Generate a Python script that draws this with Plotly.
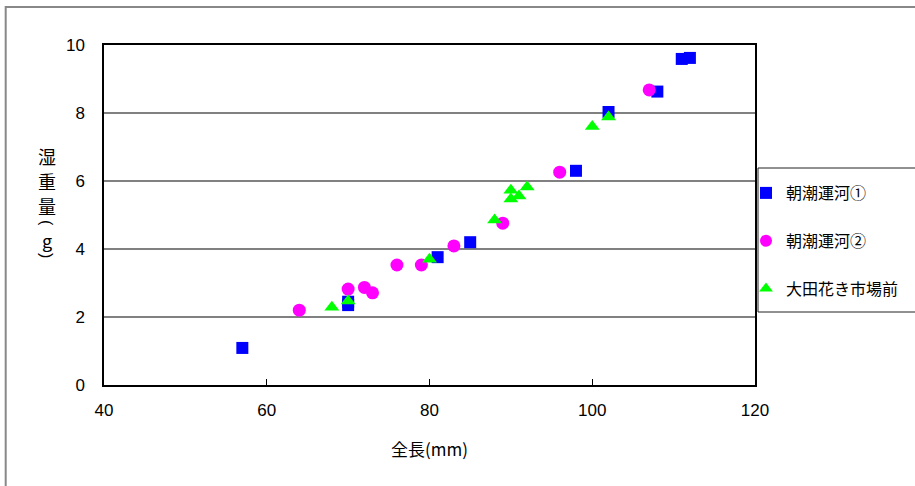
import plotly.graph_objects as go

# 朝潮運河①
s1_len = [57, 70, 70, 81, 85, 98, 102, 108, 111, 112]
s1_wt = [1.09, 2.35, 2.45, 3.76, 4.2, 6.3, 8.03, 8.63, 9.59, 9.62]
# 朝潮運河②
s2_len = [64, 70, 72, 73, 76, 79, 83, 89, 96, 107]
s2_wt = [2.2, 2.82, 2.87, 2.71, 3.53, 3.53, 4.09, 4.76, 6.26, 8.68]
# 大田花き市場前
s3_len = [68, 70, 80, 88, 90, 90, 91, 92, 100, 102]
s3_wt = [2.29, 2.47, 3.7, 4.85, 5.73, 5.47, 5.56, 5.82, 7.6, 7.88]

names = ["朝潮運河①", "朝潮運河②", "大田花き市場前"]
x_ticks = [40, 60, 80, 100, 120]
y_title_chars = ["湿", "重", "量", "(", "g", ")"]
y_title_angles = [0, 0, 0, 90, 0, 90]
y_ticks = [0, 2, 4, 6, 8, 10]

FONT = "Noto Sans CJK JP, Liberation Sans, sans-serif"
NUMFONT = "Liberation Sans Narrow, Liberation Sans, sans-serif"
LATIN = "Liberation Sans, DejaVu Sans, sans-serif"

fig = go.Figure()
fig.add_trace(go.Scatter(x=s1_len, y=s1_wt, mode="markers", name=names[0], legendgroup="a",
                         marker=dict(symbol="square", size=12, color="#0000FF")))
fig.add_trace(go.Scatter(x=s2_len, y=s2_wt, mode="markers", name=names[1], legendgroup="b",
                         marker=dict(symbol="circle", size=13, color="#FF00FF")))
fig.add_trace(go.Scatter(x=s3_len, y=s3_wt, mode="markers", name=names[2], legendgroup="c",
                         marker=dict(symbol="triangle-up", size=13, color="#00FF00")))

# vertical y-axis title 湿重量（g）, brackets turned sideways as in vertical writing
title_rows_px = [156, 181, 206, 223, 240, 255]
annotations = []
for ch, ang, py in zip(y_title_chars, y_title_angles, title_rows_px):
    annotations.append(dict(text=ch, xref="paper", yref="paper", textangle=ang,
                            x=(47 - 104) / 651, y=(385 - py) / 340,
                            xanchor="center", yanchor="middle", showarrow=False,
                            font=dict(size=18 if ang == 0 else 16,
                                      family=FONT if ang == 0 else LATIN)))

fig.update_layout(
    width=915, height=486,
    margin=dict(l=104, r=160, t=45, b=101, autoexpand=False),
    paper_bgcolor="white", plot_bgcolor="white",
    font=dict(family=FONT, size=16, color="black"),
    showlegend=True,
    legend=dict(x=(746 - 104) / 651, y=(385 - 176) / 340, xanchor="left", yanchor="top",
                borderwidth=0, bgcolor="rgba(0,0,0,0)",
                font=dict(size=16, family=FONT), tracegroupgap=24,
                itemsizing="constant", itemwidth=30),
    xaxis=dict(range=[40, 120], tickvals=x_ticks, showgrid=False, zeroline=False,
               showline=True, linecolor="black", linewidth=1.5, mirror=True,
               ticks="inside", ticklen=6, tickcolor="black", ticklabelstandoff=9,
               tickfont=dict(size=17, family=NUMFONT),
               title=dict(text="全長(mm)", font=dict(size=17, family=FONT), standoff=25)),
    yaxis=dict(range=[0, 10], tickvals=y_ticks, showgrid=True, gridcolor="#808080", gridwidth=1.5,
               zeroline=False, showline=True, linecolor="black", linewidth=1.5, mirror=True,
               ticks="", ticklabelstandoff=14, tickfont=dict(size=17, family=NUMFONT)),
    shapes=[
        dict(type="rect", xref="paper", yref="paper", x0=-0.151, x1=1.3, y0=-0.35, y1=1.112,
             line=dict(color="#888888", width=2), layer="below"),
        dict(type="rect", xref="paper", yref="paper",
             x0=(758 - 104) / 651, x1=(925 - 104) / 651,
             y0=(385 - 312) / 340, y1=(385 - 168) / 340,
             line=dict(color="#222222", width=1), layer="above"),
    ],
    annotations=annotations,
)

fig.write_html("out.html", config={"displayModeBar": False},
               post_script="document.body.style.margin='0';")
